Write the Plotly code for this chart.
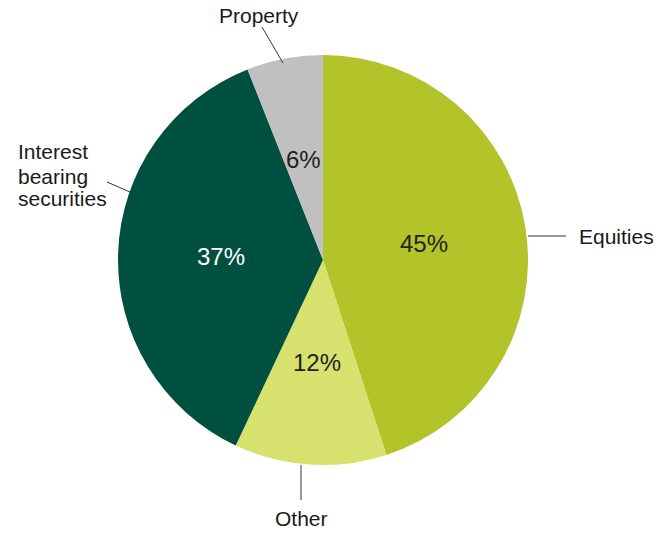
import math
import plotly.graph_objects as go

# Asset allocation
categories = ["Equities", "Other", "Interest bearing securities", "Property"]
shares = [45, 12, 37, 6]
colors = ["#b2c42a", "#d6e16e", "#00503f", "#c0c0c0"]
text_colors = ["#222222", "#222222", "#ffffff", "#222222"]

W, H = 660, 536
cx, cy, r = 323, 260, 205  # pie centre and radius in pixels
FAMILY = "Liberation Sans, Arial, sans-serif"


def px(x):
    return x / W


def py(y):
    return 1 - y / H


fig = go.Figure(
    go.Pie(
        labels=categories,
        values=shares,
        sort=False,
        direction="clockwise",
        rotation=0,
        marker=dict(colors=colors, line=dict(width=0)),
        textinfo="none",
        hoverinfo="label+percent",
        showlegend=False,
        domain=dict(x=[px(cx - r), px(cx + r)], y=[py(cy + r), py(cy - r)]),
    )
)

# percentage labels: halfway out along each slice's bisector
total = sum(shares)
annotations = []
cum = 0
for val, tc in zip(shares, text_colors):
    mid = (cum + val / 2) / total * 2 * math.pi
    cum += val
    x = cx + 0.5 * r * math.sin(mid)
    y = cy - 0.5 * r * math.cos(mid)
    annotations.append(dict(text=f"{val}%", x=px(x), y=py(y), xanchor="center", yanchor="middle",
                            font=dict(family=FAMILY, size=24, color=tc)))

font = dict(family=FAMILY, size=21, color="#1a1a1a")

# leader lines (pixel coordinates converted to paper)
leaders = [
    ((528, 236), (566, 236)),   # Equities
    ((301, 465), (301, 500)),   # Other
    ((130, 192), (107, 182)),   # Interest bearing securities
    ((283, 63), (262, 27)),     # Property
]
shapes = [
    dict(type="line", xref="paper", yref="paper",
         x0=px(a[0]), y0=py(a[1]), x1=px(b[0]), y1=py(b[1]),
         line=dict(color="#333333", width=1))
    for a, b in leaders
]

outer = [
    dict(text="Equities", x=px(577), y=py(236), xanchor="left"),
    dict(text="Other", x=px(301), y=py(518), xanchor="center"),
    dict(text="Interest", x=px(16), y=py(152), xanchor="left"),
    dict(text="bearing", x=px(16), y=py(176), xanchor="left"),
    dict(text="securities", x=px(16), y=py(199), xanchor="left"),
    dict(text="Property", x=px(259), y=py(16), xanchor="center"),
]
for a in outer:
    a.update(yanchor="middle", font=font)
annotations += outer
for a in annotations:
    a.update(xref="paper", yref="paper", showarrow=False)

fig.update_layout(
    width=W, height=H,
    margin=dict(l=0, r=0, t=0, b=0),
    paper_bgcolor="white",
    plot_bgcolor="white",
    shapes=shapes,
    annotations=annotations,
)

fig.write_html("out.html")
